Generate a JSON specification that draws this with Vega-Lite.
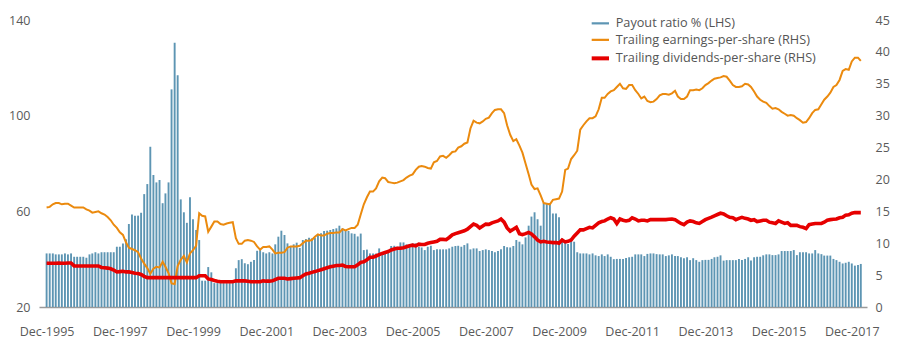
{
"$schema":"https://vega.github.io/schema/vega-lite/v6.json",
"width":828,"height":287,"autosize":"none",
"padding":{"left":39,"top":20,"right":37,"bottom":45},
"background":"white",
"config":{"view":{"stroke":null},"font":"Open Sans",
"axis":{"labelFont":"Open Sans","labelFontSize":12.5,"labelColor":"#5a5a5a","grid":false,"ticks":false,"domain":false,"title":null,"labelOverlap":false}},
"data":{"values":[
{"date":"1995-12","payout":42.4,"eps":15.6,"dps":6.85},
{"date":"1996-01","payout":42.4,"eps":15.7,"dps":6.85},
{"date":"1996-02","payout":42.4,"eps":16.1,"dps":6.85},
{"date":"1996-03","payout":42,"eps":16.3,"dps":6.85},
{"date":"1996-04","payout":42,"eps":16.3,"dps":6.9},
{"date":"1996-05","payout":42,"eps":16.1,"dps":6.85},
{"date":"1996-06","payout":42.4,"eps":16.2,"dps":6.85},
{"date":"1996-07","payout":42,"eps":16.2,"dps":6.9},
{"date":"1996-08","payout":42.4,"eps":15.9,"dps":6.9},
{"date":"1996-09","payout":41,"eps":15.6,"dps":6.45},
{"date":"1996-10","payout":41,"eps":15.6,"dps":6.43},
{"date":"1996-11","payout":41,"eps":15.6,"dps":6.43},
{"date":"1996-12","payout":41,"eps":15.6,"dps":6.43},
{"date":"1997-01","payout":40.6,"eps":15.3,"dps":6.43},
{"date":"1997-02","payout":42,"eps":15.1,"dps":6.43},
{"date":"1997-03","payout":42.4,"eps":14.8,"dps":6.43},
{"date":"1997-04","payout":42.9,"eps":14.9,"dps":6.43},
{"date":"1997-05","payout":42.4,"eps":15.0,"dps":6.43},
{"date":"1997-06","payout":42.9,"eps":14.7,"dps":6.2},
{"date":"1997-07","payout":42.9,"eps":14.5,"dps":6.15},
{"date":"1997-08","payout":42.9,"eps":14.1,"dps":6.1},
{"date":"1997-09","payout":42.9,"eps":13.6,"dps":6.0},
{"date":"1997-10","payout":42.9,"eps":12.9,"dps":5.8},
{"date":"1997-11","payout":45.2,"eps":12.4,"dps":5.5},
{"date":"1997-12","payout":45.2,"eps":11.7,"dps":5.55},
{"date":"1998-01","payout":46.6,"eps":11.3,"dps":5.6},
{"date":"1998-02","payout":48.3,"eps":10.1,"dps":5.5},
{"date":"1998-03","payout":54.7,"eps":9.3,"dps":5.5},
{"date":"1998-04","payout":58.7,"eps":9.1,"dps":5.4},
{"date":"1998-05","payout":58.2,"eps":8.9,"dps":5.3},
{"date":"1998-06","payout":58.2,"eps":8.6,"dps":5.25},
{"date":"1998-07","payout":59.4,"eps":7.6,"dps":5.1},
{"date":"1998-08","payout":67.2,"eps":6.8,"dps":4.8},
{"date":"1998-09","payout":71.4,"eps":6.1,"dps":4.6},
{"date":"1998-10","payout":87,"eps":5.2,"dps":4.6},
{"date":"1998-11","payout":75.2,"eps":6.0,"dps":4.6},
{"date":"1998-12","payout":72.1,"eps":6.3,"dps":4.6},
{"date":"1999-01","payout":73.1,"eps":6.2,"dps":4.6},
{"date":"1999-02","payout":63.4,"eps":7.1,"dps":4.6},
{"date":"1999-03","payout":67.5,"eps":6.3,"dps":4.6},
{"date":"1999-04","payout":72.1,"eps":5.3,"dps":4.6},
{"date":"1999-05","payout":111,"eps":3.7,"dps":4.6},
{"date":"1999-06","payout":130.5,"eps":3.6,"dps":4.6},
{"date":"1999-07","payout":116.9,"eps":6.4,"dps":4.6},
{"date":"1999-08","payout":65,"eps":7.4,"dps":4.6},
{"date":"1999-09","payout":59.6,"eps":8.0,"dps":4.6},
{"date":"1999-10","payout":55.2,"eps":7.0,"dps":4.6},
{"date":"1999-11","payout":65.9,"eps":8.4,"dps":4.6},
{"date":"1999-12","payout":56.7,"eps":8.9,"dps":4.6},
{"date":"2000-01","payout":52.2,"eps":9.6,"dps":4.6},
{"date":"2000-02","payout":48,"eps":14.7,"dps":4.9},
{"date":"2000-03","payout":31,"eps":14.3,"dps":4.9},
{"date":"2000-04","payout":31,"eps":14.2,"dps":4.9},
{"date":"2000-05","payout":36.7,"eps":11.8,"dps":4.4},
{"date":"2000-06","payout":34.5,"eps":12.6,"dps":4.3},
{"date":"2000-07","payout":30,"eps":13.4,"dps":4.15},
{"date":"2000-08","payout":30,"eps":13.4,"dps":4.05},
{"date":"2000-09","payout":30,"eps":13.0,"dps":3.97},
{"date":"2000-10","payout":30,"eps":12.9,"dps":3.97},
{"date":"2000-11","payout":30,"eps":13.1,"dps":3.97},
{"date":"2000-12","payout":30,"eps":13.2,"dps":3.97},
{"date":"2001-01","payout":30,"eps":13.3,"dps":3.97},
{"date":"2001-02","payout":36.2,"eps":10.8,"dps":4.1},
{"date":"2001-03","payout":39.6,"eps":9.9,"dps":4.1},
{"date":"2001-04","payout":40,"eps":9.9,"dps":4.1},
{"date":"2001-05","payout":38.3,"eps":10.4,"dps":4.1},
{"date":"2001-06","payout":37.9,"eps":10.5,"dps":4.05},
{"date":"2001-07","payout":38.9,"eps":10.4,"dps":3.97},
{"date":"2001-08","payout":39.6,"eps":10.2,"dps":3.97},
{"date":"2001-09","payout":43.5,"eps":9.5,"dps":3.97},
{"date":"2001-10","payout":43.8,"eps":9.0,"dps":3.97},
{"date":"2001-11","payout":42.9,"eps":9.4,"dps":4.1},
{"date":"2001-12","payout":42.4,"eps":9.4,"dps":4.05},
{"date":"2002-01","payout":42.9,"eps":9.5,"dps":4.05},
{"date":"2002-02","payout":42.4,"eps":9.0,"dps":4.1},
{"date":"2002-03","payout":46.2,"eps":8.4,"dps":4.3},
{"date":"2002-04","payout":49.4,"eps":8.5,"dps":4.5},
{"date":"2002-05","payout":51.9,"eps":8.5,"dps":4.5},
{"date":"2002-06","payout":50.1,"eps":8.6,"dps":4.5},
{"date":"2002-07","payout":46.6,"eps":9.3,"dps":4.4},
{"date":"2002-08","payout":45.2,"eps":9.5,"dps":4.45},
{"date":"2002-09","payout":46.2,"eps":9.5,"dps":4.5},
{"date":"2002-10","payout":46.9,"eps":9.5,"dps":4.55},
{"date":"2002-11","payout":44.7,"eps":9.6,"dps":4.6},
{"date":"2002-12","payout":48,"eps":10.0,"dps":4.9},
{"date":"2003-01","payout":48.4,"eps":10.4,"dps":5.17},
{"date":"2003-02","payout":49,"eps":10.4,"dps":5.3},
{"date":"2003-03","payout":48.7,"eps":10.5,"dps":5.43},
{"date":"2003-04","payout":49,"eps":11.0,"dps":5.55},
{"date":"2003-05","payout":50.4,"eps":11.4,"dps":5.7},
{"date":"2003-06","payout":50.8,"eps":11.2,"dps":5.85},
{"date":"2003-07","payout":51.8,"eps":11.2,"dps":6.0},
{"date":"2003-08","payout":51.9,"eps":11.5,"dps":6.15},
{"date":"2003-09","payout":52.2,"eps":11.6,"dps":6.3},
{"date":"2003-10","payout":52.6,"eps":11.6,"dps":6.4},
{"date":"2003-11","payout":52.9,"eps":11.7,"dps":6.5},
{"date":"2003-12","payout":54,"eps":11.7,"dps":6.5},
{"date":"2004-01","payout":52.9,"eps":12.2,"dps":6.58},
{"date":"2004-02","payout":52.2,"eps":12.0,"dps":6.35},
{"date":"2004-03","payout":51.8,"eps":12.2,"dps":6.3},
{"date":"2004-04","payout":50.8,"eps":12.4,"dps":6.3},
{"date":"2004-05","payout":50.6,"eps":12.4,"dps":6.3},
{"date":"2004-06","payout":49.5,"eps":12.9,"dps":6.6},
{"date":"2004-07","payout":50.7,"eps":14.5,"dps":7.0},
{"date":"2004-08","payout":43.8,"eps":16.1,"dps":7.1},
{"date":"2004-09","payout":44,"eps":17.2,"dps":7.4},
{"date":"2004-10","payout":42.4,"eps":18.1,"dps":7.8},
{"date":"2004-11","payout":42.4,"eps":18.1,"dps":7.8},
{"date":"2004-12","payout":42.4,"eps":18.6,"dps":8.0},
{"date":"2005-01","payout":44.5,"eps":19.7,"dps":8.2},
{"date":"2005-02","payout":42.4,"eps":20.3,"dps":8.4},
{"date":"2005-03","payout":42.9,"eps":20.2,"dps":8.55},
{"date":"2005-04","payout":43.8,"eps":19.6,"dps":8.7},
{"date":"2005-05","payout":45.5,"eps":19.5,"dps":8.95},
{"date":"2005-06","payout":45.6,"eps":19.4,"dps":9.1},
{"date":"2005-07","payout":45.2,"eps":19.5,"dps":9.2},
{"date":"2005-08","payout":47,"eps":19.7,"dps":9.2},
{"date":"2005-09","payout":47,"eps":19.9,"dps":9.3},
{"date":"2005-10","payout":46.2,"eps":20.3,"dps":9.45},
{"date":"2005-11","payout":46.2,"eps":20.6,"dps":9.6},
{"date":"2005-12","payout":46.6,"eps":20.8,"dps":9.7},
{"date":"2006-01","payout":46.6,"eps":21.5,"dps":9.6},
{"date":"2006-02","payout":45.2,"eps":22.0,"dps":9.85},
{"date":"2006-03","payout":44.9,"eps":22.1,"dps":9.8},
{"date":"2006-04","payout":43.8,"eps":22.0,"dps":9.8},
{"date":"2006-05","payout":45.2,"eps":21.8,"dps":10.0},
{"date":"2006-06","payout":45.6,"eps":21.7,"dps":10.1},
{"date":"2006-07","payout":43.8,"eps":22.7,"dps":10.2},
{"date":"2006-08","payout":44.1,"eps":22.9,"dps":10.3},
{"date":"2006-09","payout":44.1,"eps":23.6,"dps":10.6},
{"date":"2006-10","payout":44.1,"eps":23.7,"dps":10.6},
{"date":"2006-11","payout":44.1,"eps":23.4,"dps":10.55},
{"date":"2006-12","payout":44.5,"eps":23.8,"dps":10.9},
{"date":"2007-01","payout":45.2,"eps":24.3,"dps":11.3},
{"date":"2007-02","payout":45.5,"eps":24.4,"dps":11.5},
{"date":"2007-03","payout":45.6,"eps":25.0,"dps":11.65},
{"date":"2007-04","payout":45.2,"eps":25.2,"dps":11.8},
{"date":"2007-05","payout":45.9,"eps":25.6,"dps":11.95},
{"date":"2007-06","payout":46.6,"eps":25.8,"dps":12.2},
{"date":"2007-07","payout":44.1,"eps":28.0,"dps":12.6},
{"date":"2007-08","payout":44.5,"eps":29.2,"dps":13.0},
{"date":"2007-09","payout":44.5,"eps":28.9,"dps":12.8},
{"date":"2007-10","payout":43.4,"eps":28.8,"dps":12.4},
{"date":"2007-11","payout":43.8,"eps":29.1,"dps":12.7},
{"date":"2007-12","payout":44.1,"eps":29.5,"dps":13.0},
{"date":"2008-01","payout":43.8,"eps":29.7,"dps":12.95},
{"date":"2008-02","payout":43.4,"eps":30.4,"dps":13.2},
{"date":"2008-03","payout":42.9,"eps":30.9,"dps":13.35},
{"date":"2008-04","payout":43.4,"eps":31.0,"dps":13.5},
{"date":"2008-05","payout":44.1,"eps":31.0,"dps":13.8},
{"date":"2008-06","payout":45.5,"eps":30.4,"dps":13.3},
{"date":"2008-07","payout":45,"eps":28.5,"dps":12.4},
{"date":"2008-08","payout":44.9,"eps":27.0,"dps":11.9},
{"date":"2008-09","payout":45.5,"eps":26.0,"dps":12.2},
{"date":"2008-10","payout":48,"eps":26.3,"dps":12.5},
{"date":"2008-11","payout":47.3,"eps":25.3,"dps":11.5},
{"date":"2008-12","payout":46.2,"eps":24.2,"dps":11.35},
{"date":"2009-01","payout":49.1,"eps":22.5,"dps":11.5},
{"date":"2009-02","payout":54,"eps":20.8,"dps":11.7},
{"date":"2009-03","payout":57.8,"eps":19.2,"dps":11.45},
{"date":"2009-04","payout":59.6,"eps":18.5,"dps":11.0},
{"date":"2009-05","payout":56.7,"eps":18.6,"dps":10.5},
{"date":"2009-06","payout":54,"eps":17.5,"dps":10.2},
{"date":"2009-07","payout":63.4,"eps":16.3,"dps":10.3},
{"date":"2009-08","payout":63.4,"eps":16.2,"dps":10.2},
{"date":"2009-09","payout":63.1,"eps":16.1,"dps":10.15},
{"date":"2009-10","payout":59.1,"eps":16.8,"dps":10.1},
{"date":"2009-11","payout":59.1,"eps":16.9,"dps":10.1},
{"date":"2009-12","payout":57.5,"eps":17.0,"dps":10.0},
{"date":"2010-01","payout":48.7,"eps":18.1,"dps":10.5},
{"date":"2010-02","payout":47.3,"eps":21.5,"dps":10.2},
{"date":"2010-03","payout":46.3,"eps":21.7,"dps":10.3},
{"date":"2010-04","payout":48.7,"eps":23.2,"dps":10.5},
{"date":"2010-05","payout":47.3,"eps":23.8,"dps":11.1},
{"date":"2010-06","payout":42.9,"eps":24.5,"dps":11.6},
{"date":"2010-07","payout":42.4,"eps":27.8,"dps":12.1},
{"date":"2010-08","payout":42.4,"eps":28.5,"dps":12.1},
{"date":"2010-09","payout":42.4,"eps":29.1,"dps":12.3},
{"date":"2010-10","payout":42,"eps":29.6,"dps":12.5},
{"date":"2010-11","payout":42.4,"eps":29.6,"dps":12.4},
{"date":"2010-12","payout":41.6,"eps":29.9,"dps":12.8},
{"date":"2011-01","payout":41.3,"eps":31.0,"dps":13.2},
{"date":"2011-02","payout":42,"eps":32.8,"dps":13.4},
{"date":"2011-03","payout":41.3,"eps":32.8,"dps":13.5},
{"date":"2011-04","payout":42,"eps":33.4,"dps":13.8},
{"date":"2011-05","payout":41,"eps":33.8,"dps":14.0},
{"date":"2011-06","payout":40,"eps":34.0,"dps":13.8},
{"date":"2011-07","payout":40.1,"eps":34.5,"dps":13.1},
{"date":"2011-08","payout":40.1,"eps":35.0,"dps":13.8},
{"date":"2011-09","payout":40.1,"eps":34.3,"dps":13.6},
{"date":"2011-10","payout":40.5,"eps":34.2,"dps":13.5},
{"date":"2011-11","payout":40.8,"eps":34.8,"dps":13.6},
{"date":"2011-12","payout":41,"eps":34.8,"dps":14.0},
{"date":"2012-01","payout":42,"eps":34.0,"dps":13.8},
{"date":"2012-02","payout":42,"eps":33.4,"dps":13.5},
{"date":"2012-03","payout":42,"eps":32.7,"dps":13.6},
{"date":"2012-04","payout":41.3,"eps":33.0,"dps":13.6},
{"date":"2012-05","payout":42.2,"eps":32.3,"dps":13.5},
{"date":"2012-06","payout":42.4,"eps":32.1,"dps":13.7},
{"date":"2012-07","payout":42.4,"eps":32.2,"dps":13.7},
{"date":"2012-08","payout":42.1,"eps":32.6,"dps":13.7},
{"date":"2012-09","payout":42,"eps":33.2,"dps":13.7},
{"date":"2012-10","payout":42,"eps":33.4,"dps":13.7},
{"date":"2012-11","payout":41.3,"eps":33.4,"dps":13.7},
{"date":"2012-12","payout":41.6,"eps":33.3,"dps":13.75},
{"date":"2013-01","payout":42,"eps":33.5,"dps":13.8},
{"date":"2013-02","payout":41.3,"eps":33.9,"dps":13.7},
{"date":"2013-03","payout":41.3,"eps":33.0,"dps":13.4},
{"date":"2013-04","payout":40.8,"eps":32.6,"dps":13.1},
{"date":"2013-05","payout":40.4,"eps":32.6,"dps":12.9},
{"date":"2013-06","payout":40.8,"eps":33.0,"dps":13.3},
{"date":"2013-07","payout":39.6,"eps":34.0,"dps":13.5},
{"date":"2013-08","payout":40.4,"eps":34.0,"dps":13.4},
{"date":"2013-09","payout":39.6,"eps":34.1,"dps":13.2},
{"date":"2013-10","payout":38.9,"eps":34.0,"dps":13.1},
{"date":"2013-11","payout":39.6,"eps":34.3,"dps":13.4},
{"date":"2013-12","payout":39.7,"eps":34.8,"dps":13.7},
{"date":"2014-01","payout":39.7,"eps":35.1,"dps":13.9},
{"date":"2014-02","payout":40.1,"eps":35.5,"dps":14.1},
{"date":"2014-03","payout":40.8,"eps":35.8,"dps":14.3},
{"date":"2014-04","payout":41,"eps":35.9,"dps":14.5},
{"date":"2014-05","payout":41.6,"eps":36.0,"dps":14.7},
{"date":"2014-06","payout":39.4,"eps":36.2,"dps":14.6},
{"date":"2014-07","payout":39.6,"eps":36.1,"dps":14.3},
{"date":"2014-08","payout":39.6,"eps":35.5,"dps":14.06},
{"date":"2014-09","payout":39.6,"eps":34.8,"dps":14.0},
{"date":"2014-10","payout":39.6,"eps":34.5,"dps":13.7},
{"date":"2014-11","payout":40.1,"eps":34.5,"dps":13.9},
{"date":"2014-12","payout":39.6,"eps":34.6,"dps":14.06},
{"date":"2015-01","payout":40.1,"eps":35.0,"dps":13.9},
{"date":"2015-02","payout":40.8,"eps":34.9,"dps":13.8},
{"date":"2015-03","payout":39.4,"eps":34.5,"dps":13.6},
{"date":"2015-04","payout":40.8,"eps":33.8,"dps":13.7},
{"date":"2015-05","payout":41,"eps":33.0,"dps":13.4},
{"date":"2015-06","payout":41,"eps":32.5,"dps":13.5},
{"date":"2015-07","payout":41.6,"eps":32.2,"dps":13.6},
{"date":"2015-08","payout":42,"eps":32.0,"dps":13.6},
{"date":"2015-09","payout":42,"eps":31.5,"dps":13.3},
{"date":"2015-10","payout":41.7,"eps":31.1,"dps":13.2},
{"date":"2015-11","payout":41.7,"eps":31.2,"dps":13.1},
{"date":"2015-12","payout":42,"eps":31.0,"dps":13.5},
{"date":"2016-01","payout":43.4,"eps":30.6,"dps":13.3},
{"date":"2016-02","payout":43.4,"eps":30.3,"dps":13.1},
{"date":"2016-03","payout":43.4,"eps":30.0,"dps":13.2},
{"date":"2016-04","payout":43.4,"eps":30.1,"dps":12.8},
{"date":"2016-05","payout":43.8,"eps":30.0,"dps":12.8},
{"date":"2016-06","payout":41.7,"eps":29.6,"dps":12.8},
{"date":"2016-07","payout":42.9,"eps":29.3,"dps":12.6},
{"date":"2016-08","payout":42.9,"eps":28.9,"dps":12.5},
{"date":"2016-09","payout":42.9,"eps":29.0,"dps":12.3},
{"date":"2016-10","payout":42.4,"eps":29.6,"dps":12.9},
{"date":"2016-11","payout":42.4,"eps":30.4,"dps":13.0},
{"date":"2016-12","payout":43.8,"eps":30.9,"dps":13.1},
{"date":"2017-01","payout":42.4,"eps":31.0,"dps":13.1},
{"date":"2017-02","payout":42.1,"eps":31.8,"dps":13.1},
{"date":"2017-03","payout":41.5,"eps":32.5,"dps":13.3},
{"date":"2017-04","payout":41.5,"eps":33.0,"dps":13.6},
{"date":"2017-05","payout":41.5,"eps":33.6,"dps":13.7},
{"date":"2017-06","payout":40.1,"eps":34.5,"dps":13.75},
{"date":"2017-07","payout":39.6,"eps":34.8,"dps":13.8},
{"date":"2017-08","payout":38.9,"eps":35.6,"dps":14.0},
{"date":"2017-09","payout":38.2,"eps":37.0,"dps":14.06},
{"date":"2017-10","payout":38.5,"eps":37.3,"dps":14.4},
{"date":"2017-11","payout":38.9,"eps":37.2,"dps":14.45},
{"date":"2017-12","payout":38.2,"eps":38.5,"dps":14.7},
{"date":"2018-01","payout":37.3,"eps":39.1,"dps":14.8},
{"date":"2018-02","payout":37.6,"eps":39.1,"dps":14.8},
{"date":"2018-03","payout":38,"eps":38.6,"dps":14.8}
]},
"encoding":{
 "x":{"field":"date","type":"temporal",
  "scale":{"type":"utc","domain":[{"year":1995,"month":11,"date":5,"utc":true},{"year":2018,"month":3,"date":13,"utc":true}]},
  "axis":{"domain":true,"domainColor":"#9a9a9a","domainWidth":1.5,"ticks":false,"format":"%b-%Y","labelPadding":18,"labelDx":-4,"labelFlush":false,"labelOverlap":false,
   "values":[{"year":1995,"month":12,"date":1,"utc":true},{"year":1997,"month":12,"date":1,"utc":true},{"year":1999,"month":12,"date":1,"utc":true},{"year":2001,"month":12,"date":1,"utc":true},{"year":2003,"month":12,"date":1,"utc":true},{"year":2005,"month":12,"date":1,"utc":true},{"year":2007,"month":12,"date":1,"utc":true},{"year":2009,"month":12,"date":1,"utc":true},{"year":2011,"month":12,"date":1,"utc":true},{"year":2013,"month":12,"date":1,"utc":true},{"year":2015,"month":12,"date":1,"utc":true},{"year":2017,"month":12,"date":1,"utc":true}]}}
},
"layer":[
 {"mark":{"type":"bar","width":1.9},
  "encoding":{
   "y":{"field":"payout","type":"quantitative","scale":{"domain":[20,140],"nice":false,"zero":false},
    "axis":{"orient":"left","values":[20,60,100,140],"labelPadding":9}},
   "y2":{"datum":20},
   "color":{"datum":"Payout ratio % (LHS)","type":"nominal",
    "scale":{"domain":["Payout ratio % (LHS)","Trailing earnings-per-share (RHS)","Trailing dividends-per-share (RHS)"],"range":["#5d95b3","#eb8a0e","#e60000"]},
    "legend":{"title":null,"orient":"none","legendX":555,"legendY":-3,"symbolType":"stroke","symbolSize":300,"symbolStrokeWidth":2.5,"labelFont":"Open Sans","labelFontSize":12.7,"labelColor":"#555555","labelOffset":9,"labelLimit":400,"rowPadding":2.5,"padding":0,
     "encode":{"symbols":{"update":{"stroke":{"scale":"color","field":"value"},"fill":{"value":"transparent"},"strokeWidth":{"signal":"datum.value == 'Trailing dividends-per-share (RHS)' ? 4 : 2.2"}}}}}}
  }},
 {"layer":[
  {"mark":{"type":"line","strokeWidth":2,"interpolate":"linear"},
   "encoding":{
    "y":{"field":"eps","type":"quantitative","scale":{"domain":[0,45],"nice":false},
     "axis":{"orient":"right","values":[0,5,10,15,20,25,30,35,40,45],"labelPadding":8,"labelOverlap":false}},
    "color":{"datum":"Trailing earnings-per-share (RHS)","type":"nominal"}}},
  {"mark":{"type":"line","strokeWidth":3.6},
   "encoding":{
    "y":{"field":"dps","type":"quantitative","scale":{"domain":[0,45],"nice":false},
     "axis":{"orient":"right","values":[0,5,10,15,20,25,30,35,40,45],"labelPadding":8,"labelOverlap":false}},
    "color":{"datum":"Trailing dividends-per-share (RHS)","type":"nominal"}}}
 ]}
],
"resolve":{"scale":{"y":"independent"}}
}
